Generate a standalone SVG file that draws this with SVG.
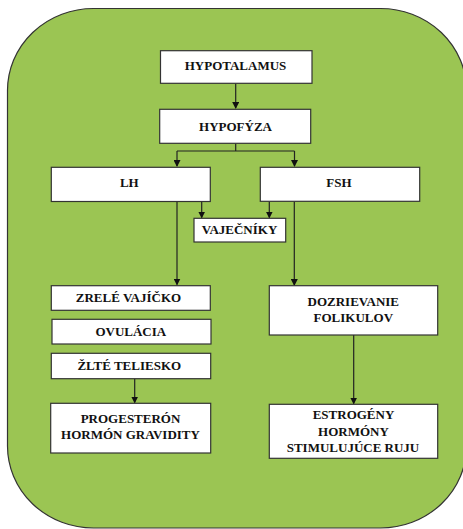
<svg xmlns="http://www.w3.org/2000/svg" width="463" height="529" viewBox="0 0 463 529">
<defs>
<marker id="ah" markerWidth="7" markerHeight="7" refX="6" refY="3.5" orient="auto" markerUnits="userSpaceOnUse">
<path d="M0,0 L7,3.5 L0,7 Z" fill="#111"/>
</marker>
<style>
.bx{fill:#fff;stroke:#333;stroke-width:1.2}
.t{font-family:"Liberation Serif","Times New Roman",serif;font-weight:bold;font-size:13px;fill:#111;text-anchor:middle}
.c{fill:none;stroke:#222;stroke-width:1.2}
</style>
</defs>
<rect x="7.5" y="8.5" width="459" height="519.5" rx="86" ry="82" fill="#9bc553" stroke="#333" stroke-width="1.2"/>
<g id="connectors">
<path class="c" d="M235.7,83.5 V108" marker-end="url(#ah)"/>
<path class="c" d="M235.7,143.5 V151 M177,151 H294.5"/>
<path class="c" d="M177,151 V166" marker-end="url(#ah)"/>
<path class="c" d="M294.5,151 V166" marker-end="url(#ah)"/>
<path class="c" d="M177,201.5 V284.5" marker-end="url(#ah)"/>
<path class="c" d="M201.7,201.5 V217.5" marker-end="url(#ah)"/>
<path class="c" d="M269.3,201.5 V217.5" marker-end="url(#ah)"/>
<path class="c" d="M294.3,201.5 V285" marker-end="url(#ah)"/>
<path class="c" d="M134.7,378.5 V402.5" marker-end="url(#ah)"/>
<path class="c" d="M353.7,335 V403.5" marker-end="url(#ah)"/>
</g>
<g id="hypotalamus"><rect class="bx" x="160.5" y="50.7" width="151.5" height="32.6"/><text class="t" x="235.5" y="70">HYPOTALAMUS</text></g>
<g id="hypofyza"><rect class="bx" x="159.7" y="109.3" width="151" height="34"/><text class="t" x="235.5" y="131">HYPOFÝZA</text></g>
<g id="lh"><rect class="bx" x="51.3" y="167.3" width="159" height="34.2"/><text class="t" x="129.3" y="186.7">LH</text></g>
<g id="fsh"><rect class="bx" x="260.3" y="167.3" width="159.4" height="34"/><text class="t" x="339" y="186.7">FSH</text></g>
<g id="vajecniky"><rect class="bx" x="194" y="218.3" width="91.7" height="23.7"/><text class="t" x="239.5" y="233.5">VAJEČNÍKY</text></g>
<g id="zrele"><rect class="bx" x="51.3" y="285.7" width="159" height="24.6"/><text class="t" x="128.5" y="301.7">ZRELÉ VAJÍČKO</text></g>
<g id="ovulacia"><rect class="bx" x="52" y="319.3" width="159" height="24.7"/><text class="t" x="130.8" y="335.7">OVULÁCIA</text></g>
<g id="zlte"><rect class="bx" x="51.3" y="353.3" width="159.4" height="25.4"/><text class="t" x="129.3" y="370">ŽLTÉ TELIESKO</text></g>
<g id="progesteron"><rect class="bx" x="50.7" y="403.3" width="160" height="49.7"/><text class="t" x="130.5" y="423.3">PROGESTERÓN</text><text class="t" x="130.5" y="439.3">HORMÓN GRAVIDITY</text></g>
<g id="dozrievanie"><rect class="bx" x="269.3" y="285.7" width="168.4" height="49.3"/><text class="t" x="353.3" y="306">DOZRIEVANIE</text><text class="t" x="353.3" y="321.7">FOLIKULOV</text></g>
<g id="estrogeny"><rect class="bx" x="269.3" y="404.3" width="168.4" height="54"/><text class="t" x="353.5" y="419.3">ESTROGÉNY</text><text class="t" x="353.5" y="435.7">HORMÓNY</text><text class="t" x="353" y="452">STIMULUJÚCE RUJU</text></g>
</svg>
